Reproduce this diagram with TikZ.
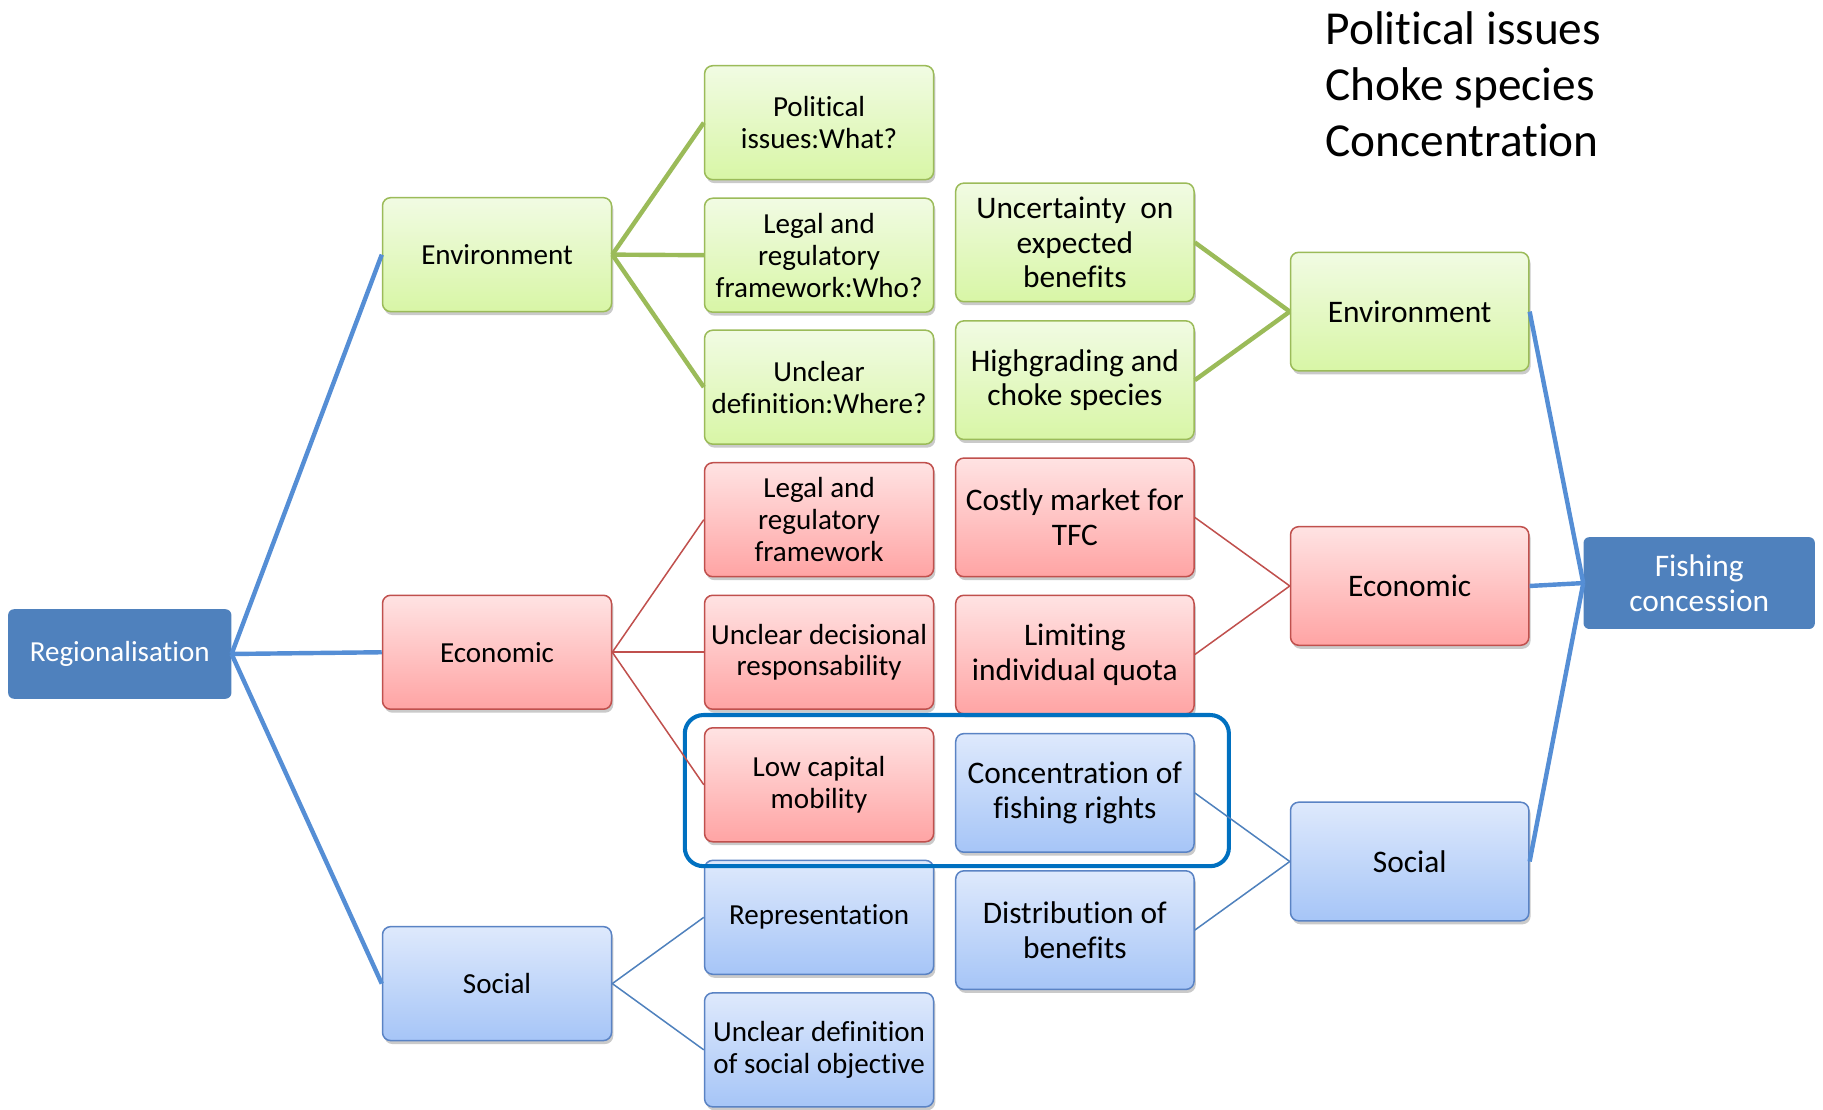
\documentclass[tikz,border=0pt]{standalone}
\usepackage{fontspec}
\setmainfont{Carlito}[RawFeature=-liga]
\usetikzlibrary{shadows}
\definecolor{gline}{HTML}{9BBB59}
\definecolor{gtop}{HTML}{F1FBE3}
\definecolor{gbot}{HTML}{D8F6A6}
\definecolor{rline}{HTML}{C0504D}
\definecolor{rtop}{HTML}{FFE3E3}
\definecolor{rbot}{HTML}{FFA4A4}
\definecolor{bline}{HTML}{5A83C4}
\definecolor{btop}{HTML}{DEE9FC}
\definecolor{bbot}{HTML}{A6C5F7}
\definecolor{dblue}{HTML}{4F81BD}
\definecolor{cblue}{HTML}{558ED5}
\definecolor{hlc}{HTML}{0070C0}
\begin{document}
\begin{tikzpicture}[x=1pt,y=-1pt,
  base/.style={rounded corners=7pt, align=center, inner sep=2pt,
    drop shadow={shadow xshift=1.5pt,shadow yshift=-3pt,opacity=0.35,fill=black!60}},
  gbox/.style={base, draw=gline, line width=1.3pt, top color=gtop, bottom color=gbot},
  rbox/.style={base, draw=rline, line width=1.3pt, top color=rtop, bottom color=rbot},
  bbox/.style={base, draw=bline, line width=1.3pt, top color=btop, bottom color=bbot},
  sA/.style={minimum width=197pt, minimum height=98pt, font=\fontsize{25}{27.5}\selectfont},
  sB/.style={minimum width=205pt, minimum height=102pt, font=\fontsize{27}{30}\selectfont},
  dark/.style={fill=dblue, rounded corners=5pt, text=white, align=center, inner sep=2pt},
  cthick/.style={draw=cblue, line width=3.8pt},
  gthick/.style={draw=gline, line width=3.8pt},
  rthin/.style={draw=rline, line width=1.3pt},
  bthin/.style={draw=dblue, line width=1.3pt},
  bigtext/.style={anchor=base west, inner sep=0pt, font=\fontsize{40.7}{48.5}\selectfont}
]
\useasboundingbox (0,0) rectangle (1568,954);

% root nodes
\node[dark, minimum width=192pt, minimum height=77pt, font=\fontsize{25}{27.5}\selectfont] (reg) at (103,562.5) {Regionalisation};
\node[dark, minimum width=199pt, minimum height=79pt, font=\fontsize{27}{30}\selectfont] (fish) at (1461.5,501.5) {Fishing\\concession};

% level 2 left
\node[gbox, sA] (envL) at (427.5,219) {Environment};
\node[rbox, sA] (ecoL) at (427.5,561) {Economic};
\node[bbox, sA] (socL) at (427.5,846) {Social};

% level 3
\node[gbox, sA] (pol) at (704.5,105.5) {Political\\issues:What?};
\node[gbox, sA] (legW) at (704.5,219.5) {Legal and\\regulatory\\framework:Who?};
\node[gbox, sA] (uncW) at (704.5,333) {Unclear\\definition:Where?};
\node[rbox, sA] (legR) at (704.5,447) {Legal and\\regulatory\\framework};
\node[rbox, sA] (udec) at (704.5,561) {Unclear decisional\\responsability};
\node[rbox, sA] (lowc) at (704.5,675) {Low capital\\mobility};
\node[bbox, sA] (repr) at (704.5,789) {Representation};
\node[bbox, sA] (usoc) at (704.5,903) {Unclear definition\\of social objective};

% level 4
\node[gbox, sB] (unce) at (924.5,208.5) {Uncertainty~ on\\expected\\benefits};
\node[gbox, sB] (high) at (924.5,327) {Highgrading and\\choke species};
\node[rbox, sB] (cost) at (924.5,445) {Costly market for\\TFC};
\node[rbox, sB] (limi) at (924.5,563) {Limiting\\individual quota};
\node[bbox, sB] (conc) at (924.5,682) {Concentration of\\fishing rights};
\node[bbox, sB] (dist) at (924.5,800) {Distribution of\\benefits};

% right column
\node[gbox, sB] (envR) at (1212.5,268) {Environment};
\node[rbox, sB] (ecoR) at (1212.5,504) {Economic};
\node[bbox, sB] (socR) at (1212.5,741) {Social};

% highlight frame
\node[draw=hlc, line width=3.5pt, rounded corners=16pt, minimum width=468pt, minimum height=130pt, inner sep=0pt] (hl) at (823,680) {};

% top-right text
\node[bigtext] (t1) at (1140,38) {Political issues};
\node[bigtext] (t2) at (1140,86.5) {Choke species};
\node[bigtext] (t3) at (1140,135) {Concentration};

% connectors
\draw[cthick] (reg.east) -- (envL.west);
\draw[cthick] (reg.east) -- (ecoL.west);
\draw[cthick] (reg.east) -- (socL.west);
\draw[gthick] (envL.east) -- (pol.west);
\draw[gthick] (envL.east) -- (legW.west);
\draw[gthick] (envL.east) -- (uncW.west);
\draw[rthin] (ecoL.east) -- (legR.west);
\draw[rthin] (ecoL.east) -- (udec.west);
\draw[rthin] (ecoL.east) -- (lowc.west);
\draw[bthin] (socL.east) -- (repr.west);
\draw[bthin] (socL.east) -- (usoc.west);
\draw[gthick] (unce.east) -- (envR.west);
\draw[gthick] (high.east) -- (envR.west);
\draw[rthin] (cost.east) -- (ecoR.west);
\draw[rthin] (limi.east) -- (ecoR.west);
\draw[bthin] (conc.east) -- (socR.west);
\draw[bthin] (dist.east) -- (socR.west);
\draw[cthick] (envR.east) -- (fish.west);
\draw[cthick] (ecoR.east) -- (fish.west);
\draw[cthick] (socR.east) -- (fish.west);
\end{tikzpicture}
\end{document}
